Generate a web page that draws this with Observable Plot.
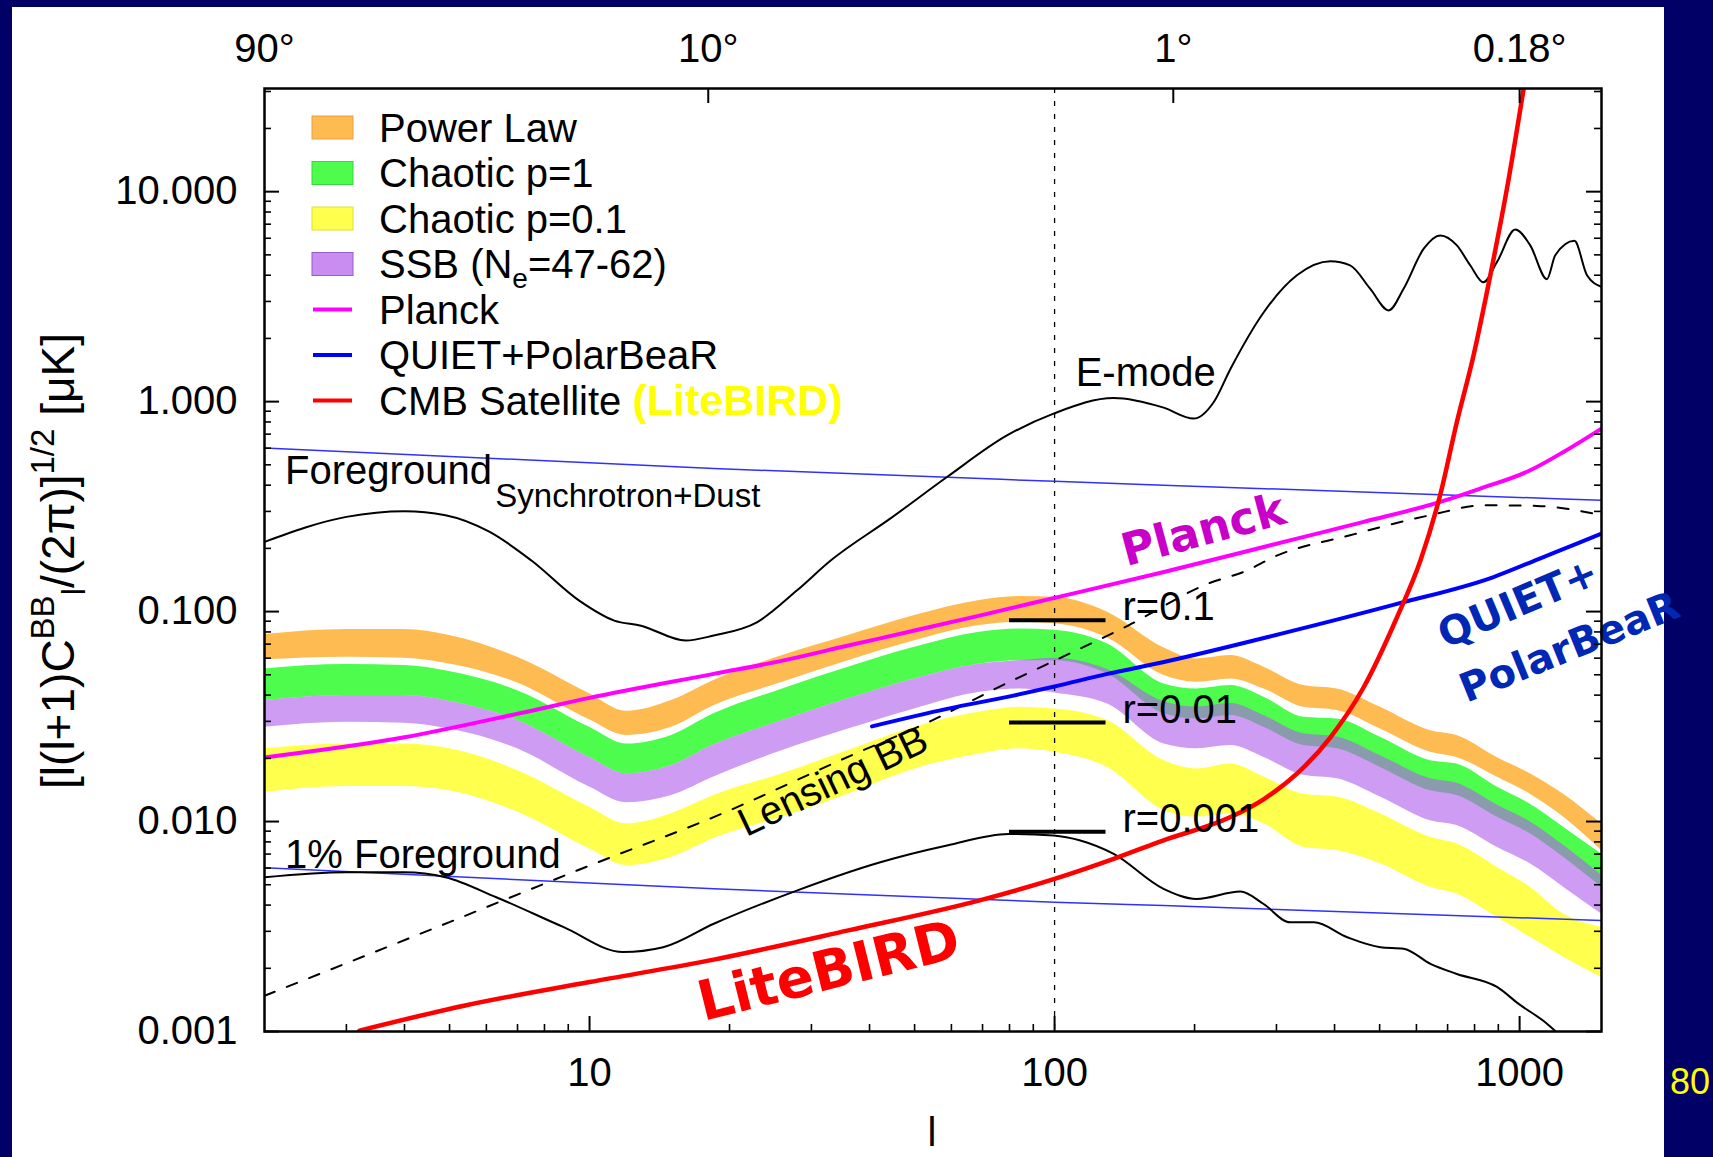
<!DOCTYPE html>
<html><head><meta charset="utf-8">
<script src="https://cdn.jsdelivr.net/npm/d3@7"></script>
<script src="https://cdn.jsdelivr.net/npm/@observablehq/plot@0.6"></script>
<style>
html,body{margin:0;padding:0;background:#000066;width:1713px;height:1157px;overflow:hidden;position:relative;}
#panel{position:absolute;left:12px;top:7px;width:1652px;height:1150px;background:#fff;}
#page{position:absolute;left:1670px;top:1064px;color:#ffff00;font:36px "Liberation Sans",Arial,sans-serif;line-height:1;}
</style></head><body>
<div id="panel"></div><div id="page">80</div>
<script>
// ---------- data (multipole l, amplitude in uK) ----------
const bandL = [2, 3, 4, 5, 7, 10, 12, 15, 18.5, 26, 36, 50, 69, 84, 100, 130, 172, 202, 239, 282, 343, 405, 502, 643, 733, 894, 1054, 1243, 1500];
const powerLawHi = [0.0777, 0.0821, 0.0821, 0.0769, 0.0606, 0.0406, 0.0335, 0.0377, 0.0470, 0.0617, 0.0769, 0.0957, 0.1128, 0.1179, 0.1170, 0.0993, 0.0671, 0.0595, 0.0617, 0.0543, 0.0444, 0.0428, 0.0350, 0.0271, 0.0257, 0.0202, 0.0169, 0.0135, 0.00975];
const powerLawLo = [0.0589, 0.0606, 0.0599, 0.0563, 0.0457, 0.0305, 0.0257, 0.0281, 0.0356, 0.0461, 0.0584, 0.0727, 0.0858, 0.0890, 0.0874, 0.0749, 0.0496, 0.0461, 0.0478, 0.0428, 0.0350, 0.0338, 0.0276, 0.0214, 0.0202, 0.0163, 0.0135, 0.0105, 0.00727];
const chaotic1Hi = [0.0533, 0.0559, 0.0553, 0.0518, 0.0420, 0.0281, 0.0234, 0.0257, 0.0326, 0.0428, 0.0543, 0.0676, 0.0797, 0.0827, 0.0815, 0.0701, 0.0452, 0.0428, 0.0444, 0.0391, 0.0314, 0.0308, 0.0252, 0.0195, 0.0188, 0.0146, 0.0121, 0.0094, 0.0070];
const chaotic1Lo = [0.0377, 0.0398, 0.0398, 0.0374, 0.0303, 0.0202, 0.0169, 0.0185, 0.0232, 0.0303, 0.0384, 0.0478, 0.0563, 0.0584, 0.0584, 0.0505, 0.0326, 0.0308, 0.0320, 0.0281, 0.0230, 0.0222, 0.0181, 0.0140, 0.0133, 0.0105, 0.00874, 0.00676, 0.00487];
const ssbHi = [0.0377, 0.0398, 0.0398, 0.0374, 0.0303, 0.0202, 0.0169, 0.0185, 0.0232, 0.0303, 0.0384, 0.0478, 0.0563, 0.0584, 0.0600, 0.0530, 0.0372, 0.0351, 0.0365, 0.0320, 0.0262, 0.0253, 0.0206, 0.0160, 0.0152, 0.0120, 0.00996, 0.00771, 0.00555];
const ssbLo = [0.0281, 0.0297, 0.0294, 0.0276, 0.0222, 0.0146, 0.0123, 0.0133, 0.0163, 0.0218, 0.0276, 0.0344, 0.0413, 0.0428, 0.0410, 0.0363, 0.0234, 0.0222, 0.0230, 0.0202, 0.0166, 0.0160, 0.0131, 0.0101, 0.00957, 0.00755, 0.00629, 0.00487, 0.00363];
const chaotic01Hi = [0.0222, 0.0234, 0.0234, 0.0222, 0.0175, 0.0117, 0.00975, 0.0109, 0.0133, 0.0169, 0.0218, 0.0281, 0.0332, 0.0350, 0.0344, 0.0303, 0.0195, 0.0178, 0.0188, 0.0163, 0.0135, 0.0131, 0.0109, 0.00842, 0.00783, 0.00606, 0.00487, 0.00363, 0.00314];
const chaotic01Lo = [0.0138, 0.0147, 0.0147, 0.0140, 0.0111, 0.00741, 0.00617, 0.00676, 0.0083, 0.0105, 0.0135, 0.0178, 0.0210, 0.0222, 0.0214, 0.0181, 0.0113, 0.0105, 0.0109, 0.00975, 0.00755, 0.00727, 0.00629, 0.00487, 0.00452, 0.00350, 0.00281, 0.00226, 0.00181];

const planckL = [2, 4, 7, 10, 18.5, 26, 36, 50, 69, 100, 171, 332, 462, 675, 823, 1054, 1243, 1500];
const planckV = [0.0202, 0.0252, 0.0326, 0.0388, 0.0505, 0.0584, 0.0689, 0.0812, 0.0957, 0.1162, 0.1539, 0.2227, 0.2673, 0.3328, 0.3852, 0.4710, 0.5758, 0.7436];

const quietL = [40.5, 58.7, 81.6, 100, 130, 171, 306, 545, 876, 1122, 1324, 1500];
const quietV = [0.0284, 0.0344, 0.0398, 0.0440, 0.0505, 0.0574, 0.0783, 0.1088, 0.1457, 0.1814, 0.210, 0.2352];

const liteL = [3.2, 5.4, 10, 18.5, 36, 69, 100, 134, 171, 239, 282, 332, 392, 462, 545, 612, 675, 733, 796, 865, 939, 1020];
const liteV = [0.00101, 0.00133, 0.00172, 0.00220, 0.00303, 0.00421, 0.00533, 0.00664, 0.00812, 0.0105, 0.0128, 0.0169, 0.0252, 0.0436, 0.0940, 0.175, 0.36, 0.800, 1.66, 4.0, 10.3, 30.9];

const emodeL = [2, 3, 4, 4.9, 6.1, 7.5, 9.5, 11.3, 12.9, 16.1, 18.5, 22.9, 27.9, 33, 44.3, 58.7, 79, 99.5, 134, 171.6, 199, 220, 239, 282, 332, 392, 432, 477, 523, 563, 622, 675, 733, 783, 836, 894, 979, 1054, 1145, 1193, 1312, 1396, 1500];
const emodeV = [0.2147, 0.2825, 0.3005, 0.2877, 0.2395, 0.175, 0.1127, 0.0906, 0.0857, 0.0728, 0.0769, 0.0889, 0.1259, 0.175, 0.277, 0.4375, 0.69, 0.877, 1.04, 0.936, 0.830, 0.996, 1.435, 2.673, 3.996, 4.659, 4.459, 3.451, 2.72, 3.45, 5.35, 6.19, 5.55, 4.46, 3.70, 4.62, 6.6, 5.55, 3.83, 4.98, 5.83, 4.0, 3.52];

const bbL = [2, 3, 4, 4.9, 6.3, 8.8, 11.8, 14.4, 18.5, 27.9, 42.2, 58.7, 79.6, 99.5, 113.6, 134, 171.5, 202, 251, 281, 321, 361, 426, 502, 563, 643, 733, 894, 997, 1145, 1203];
const bbV = [0.00543, 0.00574, 0.00574, 0.00543, 0.00436, 0.00314, 0.00239, 0.00252, 0.00326, 0.00469, 0.00640, 0.00769, 0.00873, 0.00858, 0.00812, 0.00701, 0.00478, 0.00428, 0.00464, 0.00406, 0.00331, 0.00331, 0.00281, 0.00252, 0.00248, 0.00210, 0.00188, 0.00163, 0.00135, 0.00109, 0.000989];

const lensL = [2, 5, 10, 18.5, 37, 54, 77, 100, 144, 213, 259, 296, 432, 643, 837, 1089, 1500];
const lensV = [0.00148, 0.00332, 0.00617, 0.0105, 0.0209, 0.0300, 0.0444, 0.0584, 0.0858, 0.1354, 0.1568, 0.182, 0.231, 0.288, 0.321, 0.3186, 0.288];

const fgL = [2, 18.5, 100, 171.6, 1500];
const fgV = [0.602, 0.48, 0.4175, 0.40, 0.339];
const fg1V = [0.00602, 0.00478, 0.00413, 0.00398, 0.00338];

const rValues = [0.0909, 0.0296, 0.00893];
const rLabels = ["r=0.1", "r=0.01", "r=0.001"];
const rRangeL = [80, 129];
const rLabelL = 140;

const xTicks = [10, 100, 1000];
const xTickLabels = ["10", "100", "1000"];
const topTicks = [2, 18, 180, 1000];
const topTickLabels = ["90°", "10°", "1°", "0.18°"];
const yTicks = [0.001, 0.01, 0.1, 1, 10];
const yTickLabels = ["0.001", "0.010", "0.100", "1.000", "10.000"];

const legendLabels = ["Power Law", "Chaotic p=1", "Chaotic p=0.1", "SSB (N", "Planck", "QUIET+PolarBeaR", "CMB Satellite "];
const legendColors = ["#fdbb52", "#4dfc4d", "#ffff4d", "#c98cf0", "#ff00ff", "#0000ff", "#ff0000"];
const legendKinds = ["band", "band", "band", "band", "line", "line", "line"];

// ---------- layout ----------
const W = 1652, H = 1150;
const mL = 252, mR = 63, mT = 81, mB = 126;
const fw = W - mL - mR, fh = H - mT - mB;
const SANS = "'Liberation Sans', Arial, Helvetica, sans-serif";
const BOLD = "'DejaVu Sans', 'Liberation Sans', sans-serif";

const band = (lo, hi) => bandL.map((l, i) => ({l, lo: lo[i], hi: hi[i]}));
const pts = (L, V) => L.map((l, i) => ({l, v: V[i]}));

const minorX = [];
for (const dec of [1, 10, 100]) for (let k = 2; k <= 9; k++) { const t = k * dec; if (t > 2 && t < 1500) minorX.push(t); }
const minorY = [];
for (const dec of [0.001, 0.01, 0.1, 1, 10]) for (let k = 2; k <= 9; k++) { const t = k * dec; if (t < 31) minorY.push(t); }

const lineOpts = (stroke, strokeWidth, extra = {}) => ({x: "l", y: "v", stroke, strokeWidth, curve: "monotone-x", clip: true, ...extra});

const plot = Plot.plot({
  width: W, height: H,
  marginLeft: mL, marginRight: mR, marginTop: mT, marginBottom: mB,
  x: {type: "log", domain: [2, 1500], axis: null, label: null},
  y: {type: "log", domain: [0.001, 31], axis: null, label: null},
  style: {fontFamily: SANS, fontSize: "40px", color: "black", background: "white", overflow: "visible"},
  marks: [
    Plot.areaY(band(powerLawLo, powerLawHi), {x: "l", y1: "lo", y2: "hi", fill: "#fdbb52", curve: "monotone-x", clip: true}),
    Plot.areaY(band(chaotic1Lo, chaotic1Hi), {x: "l", y1: "lo", y2: "hi", fill: "#4dfc4d", curve: "monotone-x", clip: true}),
    Plot.areaY(band(ssbLo, ssbHi), {x: "l", y1: "lo", y2: "hi", fill: "#b060ea", fillOpacity: 0.62, curve: "monotone-x", clip: true}),
    Plot.areaY(band(chaotic01Lo, chaotic01Hi), {x: "l", y1: "lo", y2: "hi", fill: "#ffff4d", curve: "monotone-x", clip: true}),
    Plot.ruleX([100], {x: d => d, stroke: "black", strokeWidth: 1.3, strokeDasharray: "5,8"}),
    Plot.line(pts(fgL, fgV), lineOpts("#3030ff", 1.5)),
    Plot.line(pts(fgL, fg1V), lineOpts("#3030ff", 1.5)),
    Plot.line(pts(emodeL, emodeV), lineOpts("black", 2)),
    Plot.line(pts(bbL, bbV), lineOpts("black", 2)),
    Plot.line(pts(lensL, lensV), lineOpts("black", 2, {strokeDasharray: "11,13"})),
    Plot.line(pts(planckL, planckV), lineOpts("#ff00ff", 4)),
    Plot.line(pts(quietL, quietV), lineOpts("#0000ff", 4)),
    Plot.line(pts(liteL, liteV), lineOpts("#ff0000", 4.5)),
    Plot.ruleY(rValues, {y: d => d, x1: rRangeL[0], x2: rRangeL[1], stroke: "black", strokeWidth: 4}),
    Plot.text(rValues, {x: () => rLabelL, y: d => d, text: (d, i) => rLabels[i], textAnchor: "start", lineAnchor: "bottom", fontSize: 40, fontFamily: SANS}),
    Plot.text([{l: 111, v: 1.19}], {x: "l", y: "v", text: () => "E-mode", textAnchor: "start", lineAnchor: "bottom", fontSize: 40, fontFamily: SANS}),
    Plot.text([{l: 2.215, v: 0.407}], {x: "l", y: "v", text: () => "Foreground", textAnchor: "start", lineAnchor: "bottom", fontSize: 40, fontFamily: SANS}),
    Plot.text([{l: 6.27, v: 0.315}], {x: "l", y: "v", text: () => "Synchrotron+Dust", textAnchor: "start", lineAnchor: "bottom", fontSize: 33, fontFamily: SANS}),
    Plot.text([{l: 2.215, v: 0.00604}], {x: "l", y: "v", text: () => "1% Foreground", textAnchor: "start", lineAnchor: "bottom", fontSize: 40, fontFamily: SANS}),
    Plot.text([{l: 33.4, v: 0.0155}], {x: "l", y: "v", text: () => "Lensing BB", rotate: -25.5, fontSize: 40, fontFamily: SANS}),
    Plot.text([{l: 209, v: 0.243}], {x: "l", y: "v", text: () => "Planck", rotate: -15, fontSize: 45, fontWeight: "bold", fontFamily: BOLD, fill: "#c800c8"}),
    Plot.text([{l: 993, v: 0.109}], {x: "l", y: "v", text: () => "QUIET+", rotate: -23, fontSize: 40, fontWeight: "bold", fontFamily: BOLD, fill: "#0028b4"}),
    Plot.text([{l: 1281, v: 0.0674}], {x: "l", y: "v", text: () => "PolarBeaR", rotate: -22, fontSize: 40, fontWeight: "bold", fontFamily: BOLD, fill: "#0028b4"}),
    Plot.text([{l: 32.7, v: 0.00193}], {x: "l", y: "v", text: () => "LiteBIRD", rotate: -14, fontSize: 55, fontWeight: "bold", fontFamily: BOLD, fill: "#ff0000"}),
    // ticks (inward, gnuplot style)
    Plot.ruleX(xTicks, {x: d => d, insetTop: fh - 15, stroke: "black", strokeWidth: 2}),
    Plot.ruleX(minorX, {x: d => d, insetTop: fh - 7, stroke: "black", strokeWidth: 1.6}),
    Plot.ruleX(topTicks.slice(1), {x: d => d, insetBottom: fh - 15, stroke: "black", strokeWidth: 2}),
    Plot.ruleY(yTicks, {y: d => d, insetRight: fw - 15, stroke: "black", strokeWidth: 2}),
    Plot.ruleY(minorY, {y: d => d, insetRight: fw - 7, stroke: "black", strokeWidth: 1.6}),
    Plot.ruleY(yTicks, {y: d => d, insetLeft: fw - 15, stroke: "black", strokeWidth: 2}),
    Plot.ruleY(minorY, {y: d => d, insetLeft: fw - 7, stroke: "black", strokeWidth: 1.6}),
    Plot.frame({stroke: "black", strokeWidth: 2.5}),
    Plot.axisX(xTicks, {anchor: "bottom", tickSize: 0, tickPadding: 26, label: null, fontSize: 40, tickFormat: d => xTickLabels[xTicks.indexOf(d)]}),
    Plot.axisX(topTicks, {anchor: "top", tickSize: 0, tickPadding: 27, label: null, fontSize: 40, tickFormat: d => topTickLabels[topTicks.indexOf(d)]}),
    Plot.axisY(yTicks, {anchor: "left", tickSize: 0, tickPadding: 27, label: null, fontSize: 40, tickFormat: d => yTickLabels[yTicks.indexOf(d)]})
  ]
});
document.getElementById("panel").appendChild(plot);

// ---------- legend, axis titles (overlay in same SVG) ----------
const svg = d3.select(plot);
const g = svg.append("g").attr("font-family", SANS).attr("font-size", 40).attr("fill", "black").attr("text-anchor", "start");
const legX = 300, legW = 41, legH = 23, legTextX = 367, legY0 = 120.5, legDY = 45.5;
const strokeOf = ["#e6a33c", "#36d936", "#e0e038", "#9a5cc4"];
legendLabels.forEach((lab, i) => {
  const cy = legY0 + i * legDY;
  if (legendKinds[i] === "band") {
    g.append("rect").attr("x", legX).attr("y", cy - legH / 2).attr("width", legW).attr("height", legH)
      .attr("fill", legendColors[i]).attr("stroke", strokeOf[i]).attr("stroke-width", 1);
  } else {
    g.append("line").attr("x1", legX + 1).attr("x2", legX + legW - 1).attr("y1", cy).attr("y2", cy)
      .attr("stroke", legendColors[i]).attr("stroke-width", 4);
  }
  const t = g.append("text").attr("x", legTextX).attr("y", cy + 14).text(lab);
  if (i === 3) {
    t.append("tspan").attr("font-size", 28).attr("dy", 10).text("e");
    t.append("tspan").attr("dy", -10).text("=47-62)");
  }
  if (i === 6) {
    t.append("tspan").attr("fill", "#ffff00").attr("font-weight", "bold").attr("font-size", 43).text("(LiteBIRD)");
  }
});

// y-axis title
const yl = g.append("text").attr("transform", "translate(62,554) rotate(-90)").attr("text-anchor", "middle").attr("font-size", 46);
yl.append("tspan").text("[l(l+1)C");
yl.append("tspan").attr("font-size", 33).attr("dy", -20).text("BB");
yl.append("tspan").attr("font-size", 33).attr("dy", 31).text("l");
yl.append("tspan").attr("dy", -11).text("/(2π)]");
yl.append("tspan").attr("font-size", 33).attr("dy", -20).text("1/2");
yl.append("tspan").attr("dy", 20).text(" [μK]");

// x-axis title
g.append("text").attr("x", 920).attr("y", 1139).attr("text-anchor", "middle").text("l");
</script></body></html>
